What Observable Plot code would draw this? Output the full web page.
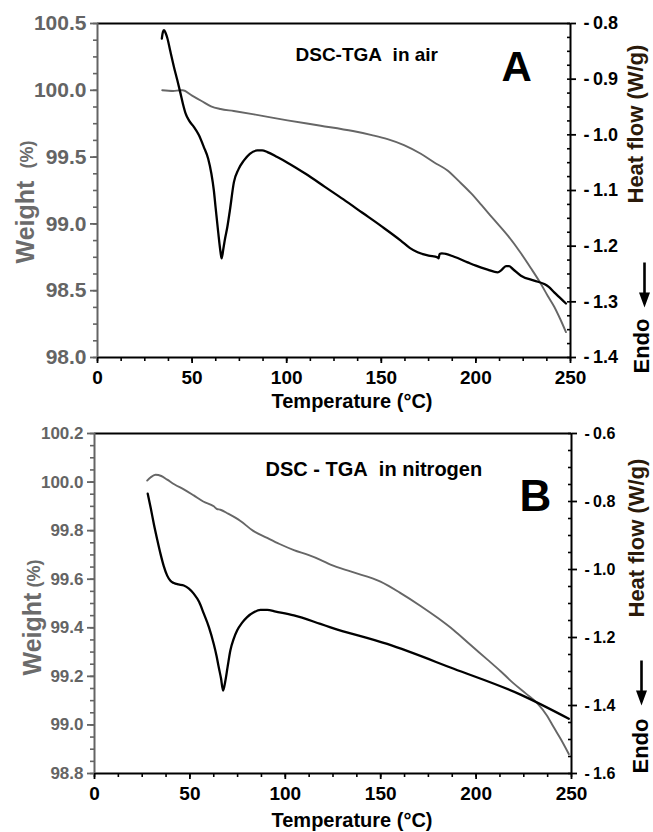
<!DOCTYPE html>
<html><head><meta charset="utf-8">
<script src="https://cdn.jsdelivr.net/npm/d3@7"></script>
<script src="https://cdn.jsdelivr.net/npm/@observablehq/plot@0.6"></script>
<style>
body{margin:0;background:#fff;}
#chart svg{display:block;}
</style></head><body><div id="chart"></div>
<script>
// ---------- DATA ----------
// Panel A: in air
const airTgaTemp   = [34.2,40,43.9,45,50,55,60,65,72,82.7,100.4,118,135,145,153.3,162,170.9,178,185,191,197.4,203,209.7,217,223.8,229,234.4,238,241.4,244.5,247.6];
const airWeight    = [100.0,99.995,100.0,100.0,99.96,99.92,99.88,99.86,99.845,99.82,99.775,99.735,99.695,99.665,99.635,99.59,99.525,99.46,99.40,99.32,99.23,99.14,99.03,98.91,98.78,98.67,98.55,98.46,98.38,98.29,98.19];
const airDscTemp   = [34.0,34.6,35.2,36.0,36.9,38.5,40.4,42.2,43.9,45.2,46.6,48.5,51,53.5,56.2,58.5,60.2,61.5,62.4,63.8,65.0,65.6,66.5,67.5,68.6,70.0,72.1,74.5,77.4,80.5,84.5,87,89.8,95,100.4,110,120,130,140,150,160.3,165,169.2,175,179.7,180.3,180.8,182,188.5,195.6,200,206.2,211.5,213.5,215.9,217.5,219.5,223.8,230.8,236.1,238.5,241.4,244.5,247.6];
const airHeatFlow  = [-0.827,-0.815,-0.812,-0.817,-0.826,-0.850,-0.878,-0.902,-0.926,-0.945,-0.962,-0.975,-0.986,-1.000,-1.022,-1.043,-1.07,-1.10,-1.13,-1.175,-1.21,-1.222,-1.205,-1.185,-1.166,-1.135,-1.085,-1.062,-1.046,-1.034,-1.028,-1.028,-1.031,-1.040,-1.050,-1.070,-1.093,-1.116,-1.140,-1.164,-1.19,-1.203,-1.211,-1.217,-1.22,-1.222,-1.214,-1.213,-1.219,-1.229,-1.235,-1.242,-1.247,-1.243,-1.236,-1.236,-1.241,-1.253,-1.262,-1.268,-1.273,-1.283,-1.293,-1.303];

// Panel B: in nitrogen
const n2TgaTemp    = [27.6,29.5,32,35,38.1,42,46.8,52,57,62.5,64,66,70,76.5,83,90.5,97,104.5,112,118.4,123.7,135,149.9,160,170.9,180,188.3,197,205.8,213,219.8,226,232,237,240.7,244.5,248.6];
const n2Weight     = [100.006,100.02,100.03,100.025,100.01,99.99,99.97,99.945,99.92,99.90,99.89,99.886,99.87,99.84,99.80,99.77,99.745,99.72,99.70,99.68,99.66,99.63,99.59,99.545,99.49,99.44,99.39,99.33,99.27,99.22,99.17,99.13,99.09,99.04,98.99,98.94,98.88];
const n2DscTemp    = [27.9,29.5,31.1,32.8,34.6,36.3,38.1,39.8,41.6,44,46.8,49.5,52,54.8,57.3,60,62.5,64,65.1,66.3,67.4,68.5,69.8,71.2,72.9,74.8,77.3,80,83.5,87,90.5,95,104.5,118.4,123.7,153.4,188.3,223.3,248.6];
const n2HeatFlow   = [-0.777,-0.82,-0.866,-0.91,-0.954,-0.99,-1.018,-1.033,-1.04,-1.044,-1.047,-1.056,-1.071,-1.095,-1.13,-1.17,-1.219,-1.255,-1.287,-1.32,-1.356,-1.33,-1.285,-1.238,-1.205,-1.179,-1.157,-1.14,-1.126,-1.119,-1.119,-1.124,-1.135,-1.16,-1.17,-1.219,-1.292,-1.368,-1.439];

// Axes / tick labels
const tempDomain      = [0, 250];
const tempTicks       = [0, 50, 100, 150, 200, 250];
const airWeightDomain = [98, 100.5];
const airWeightTicks  = [98.0, 98.5, 99.0, 99.5, 100.0, 100.5];
const airHeatDomain   = [-1.4, -0.8];
const airHeatTicks    = [-0.8, -0.9, -1.0, -1.1, -1.2, -1.3, -1.4];
const n2WeightDomain  = [98.8, 100.2];
const n2WeightTicks   = [98.8, 99.0, 99.2, 99.4, 99.6, 99.8, 100.0, 100.2];
const n2HeatDomain    = [-1.6, -0.6];
const n2HeatTicks     = [-0.6, -0.8, -1.0, -1.2, -1.4, -1.6];

const titles = ["DSC-TGA\u00a0\u00a0in air", "DSC - TGA\u00a0\u00a0in nitrogen"];
const letters = ["A", "B"];
const xLabel = "Temperature (°C)";
const yLabelMain = "Weight", yLabelUnit = "(%)";
const y2Label = "Heat flow (W/g)";
const endoLabel = "Endo";

// ---------- STYLE ----------
const FONT = '"Liberation Sans", Arial, Helvetica, sans-serif';
const GREY = "#646464";
const HEAT = "#2b1a0a";

// filled arrow shape for the "Endo" direction marker
const endoArrow = {
  draw(ctx, l) {
    const hw = 1.3, H = 5.5, hl = 15;
    ctx.moveTo(-hw, 0);
    ctx.lineTo(-hw, -l + hl);
    ctx.lineTo(-H, -l + hl);
    ctx.lineTo(0, -l);
    ctx.lineTo(H, -l + hl);
    ctx.lineTo(hw, -l + hl);
    ctx.lineTo(hw, 0);
    ctx.closePath();
  }
};

function range(a, b, step) { const out = []; const n = Math.round((b - a) / step); for (let i = 0; i <= n; i++) out.push(+(a + i * step).toFixed(4)); return out; }

function panel(c) {
  const map = d3.scaleLinear().domain(c.heatDomain).range(c.weightDomain);
  const tga = c.tgaT.map((t, i) => ({t, w: c.weight[i]}));
  const dsc = c.dscT.map((t, i) => ({t, w: map(c.heat[i])}));
  const xMinor = range(tempDomain[0], tempDomain[1], 12.5);
  const yMinor = range(c.weightDomain[0], c.weightDomain[1], c.weightMinor);
  const hMinor = range(c.heatDomain[0], c.heatDomain[1], c.heatMinor).map(map);
  const fmtW = d3.format(".1f");
  const fmtH = v => "-\u2009" + d3.format(".1f")(Math.abs(v));
  const textBase = {fontFamily: FONT, fontWeight: "bold", text: d => d};
  return Plot.plot({
    width: 653, height: c.height,
    marginTop: c.mt, marginBottom: c.mb, marginLeft: c.ml, marginRight: c.mr,
    style: {fontFamily: FONT, background: "white", overflow: "visible"},
    x: {domain: tempDomain},
    y: {domain: c.weightDomain},
    marks: [
      Plot.line(tga, {x: "t", y: "w", stroke: "#666666", strokeWidth: 1.9, curve: "monotone-x"}),
      Plot.line(dsc, {x: "t", y: "w", stroke: "#000000", strokeWidth: 2.3, curve: "monotone-x"}),
      // frame
      Plot.ruleY([c.weightDomain[1]], {stroke: "#000", strokeWidth: 2}),
      Plot.ruleY([c.weightDomain[0]], {stroke: "#000", strokeWidth: 2}),
      Plot.ruleX([tempDomain[1]], {stroke: "#000", strokeWidth: 2}),
      Plot.ruleX([tempDomain[0]], {stroke: GREY, strokeWidth: 2}),
      // x axis
      Plot.axisX(xMinor, {anchor: "bottom", tickSize: 4, fill: "none", stroke: "#000", strokeWidth: 1.6, label: null}),
      Plot.axisX(tempTicks, {anchor: "bottom", tickSize: 6, tickPadding: 7, stroke: "#000", strokeWidth: 1.8, fill: "#000",
        fontSize: 19, fontWeight: "bold", fontFamily: FONT, tickFormat: d3.format("d"), label: null}),
      // left axis
      Plot.axisY(yMinor, {anchor: "left", tickSize: 4, fill: "none", stroke: GREY, strokeWidth: 1.6, label: null}),
      Plot.axisY(c.weightTicks, {anchor: "left", tickSize: 7, tickPadding: 4, stroke: GREY, strokeWidth: 1.8, fill: GREY,
        fontSize: c.leftFont, fontWeight: "bold", fontFamily: FONT, tickFormat: fmtW, label: null}),
      // right axis
      Plot.axisY(hMinor, {anchor: "right", tickSize: 4, dx: -4, fill: "none", stroke: "#000", strokeWidth: 1.6, label: null}),
      Plot.axisY(c.heatTicks.map(map), {anchor: "right", tickSize: 5, tickPadding: 8, stroke: "#000", strokeWidth: 1.8, fill: "#000",
        fontSize: c.rightFont, fontWeight: "bold", fontFamily: FONT, tickFormat: d => fmtH(map.invert(d)), label: null}),
      // annotations
      Plot.text([c.title], {...textBase, frameAnchor: "top-left", dx: c.titleDx, dy: c.titleDy, textAnchor: "start", lineAnchor: "bottom", fontSize: c.titleFont, fill: "#000"}),
      Plot.text([c.letter], {...textBase, frameAnchor: "top-left", dx: c.letterDx, dy: c.letterDy, textAnchor: "start", lineAnchor: "bottom", fontSize: c.letterFont, fill: "#000"}),
      Plot.text([xLabel], {...textBase, frameAnchor: "bottom", dx: c.xlabDx, dy: c.xlabDy, lineAnchor: "bottom", fontSize: 20, fill: "#000"}),
      Plot.text([yLabelMain], {...textBase, frameAnchor: "bottom-left", dx: c.wDx, dy: c.wDy, rotate: -90, textAnchor: "start", lineAnchor: "middle", fontSize: 25, fill: "#6b6b6b"}),
      Plot.text([yLabelUnit], {...textBase, frameAnchor: "bottom-left", dx: c.wDx + 2.2, dy: c.pDy, rotate: -90, textAnchor: "start", lineAnchor: "middle", fontSize: 18, fill: "#6b6b6b"}),
      Plot.text([y2Label], {...textBase, frameAnchor: "top-right", dx: c.hDx, dy: c.hDy, rotate: -90, textAnchor: "start", lineAnchor: "middle", fontSize: 22, fill: HEAT}),
      Plot.text([endoLabel], {...textBase, frameAnchor: "bottom-right", dx: c.eDx, dy: c.eDy, rotate: -90, textAnchor: "start", lineAnchor: "middle", fontSize: 22, fill: "#000"}),
      Plot.vector([endoLabel], {frameAnchor: "bottom-right", dx: c.aDx, dy: c.aDy, length: 45, rotate: 180, anchor: "start",
        shape: endoArrow, fill: "#000", stroke: "none"})
    ]
  });
}

const chart = document.getElementById("chart");
chart.append(panel({
  height: 415, mt: 23, mb: 58, ml: 97, mr: 83,
  tgaT: airTgaTemp, weight: airWeight, dscT: airDscTemp, heat: airHeatFlow,
  weightDomain: airWeightDomain, weightTicks: airWeightTicks, weightMinor: 0.125,
  heatDomain: airHeatDomain, heatTicks: airHeatTicks, heatMinor: 0.025,
  leftFont: 21, rightFont: 18,
  title: titles[0], titleDx: 198, titleDy: 37, titleFont: 19,
  letter: letters[0], letterDx: 404, letterDy: 57, letterFont: 42,
  xlabDx: 18, xlabDy: 50,
  wDx: -72, wDy: -94, pDy: -189,
  hDx: 65, hDy: 180,
  eDx: 71, eDy: 16, aDx: 74, aDy: -95
}));
chart.append(panel({
  height: 417, mt: 18, mb: 59, ml: 94, mr: 82,
  tgaT: n2TgaTemp, weight: n2Weight, dscT: n2DscTemp, heat: n2HeatFlow,
  weightDomain: n2WeightDomain, weightTicks: n2WeightTicks, weightMinor: 0.05,
  heatDomain: n2HeatDomain, heatTicks: n2HeatTicks, heatMinor: 0.05,
  leftFont: 17, rightFont: 16,
  title: titles[1], titleDx: 171, titleDy: 42, titleFont: 20,
  letter: letters[1], letterDx: 425, letterDy: 77, letterFont: 44,
  xlabDx: 19, xlabDy: 53,
  wDx: -62, wDy: -98, pDy: -186,
  hDx: 65, hDy: 184,
  eDx: 69, eDy: 0, aDx: 70, aDy: -113
}));
</script></body></html>
